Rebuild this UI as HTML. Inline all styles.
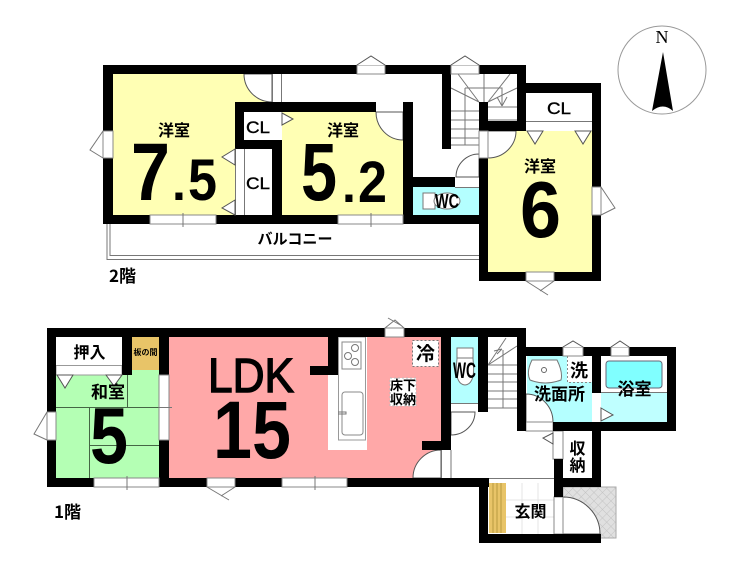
<!DOCTYPE html>
<html><head><meta charset="utf-8"><style>
html,body{margin:0;padding:0;background:#fff}
svg{display:block}
text{font-family:"Liberation Sans","Noto Sans CJK JP",sans-serif;font-weight:bold;fill:#000}
.j{font-family:"Noto Sans CJK JP",sans-serif;font-weight:bold}
.t{fill:none;stroke:#777;stroke-width:1}
.w{fill:#fff;stroke:#888;stroke-width:1}
.d{fill:#fff;stroke:#555;stroke-width:1}
</style></head><body>
<svg width="740" height="570" viewBox="0 0 740 570" xmlns="http://www.w3.org/2000/svg">
<defs>
<pattern id="pp" width="6" height="6" patternUnits="userSpaceOnUse" patternTransform="rotate(45)">
<rect width="6" height="6" fill="#e0e0e0"/><path d="M0 0H6M0 0V6" stroke="#c4c4c4" stroke-width="1"/>
</pattern>
</defs>
<!-- compass -->
<circle cx="662" cy="70" r="44" fill="#fff" stroke="#999" stroke-width="1"/>
<text x="662" y="43" text-anchor="middle" font-size="18" style="font-family:'Liberation Serif',serif;font-weight:normal">N</text>
<path d="M663 52L652 111Q663 102 673 111Z" fill="#000"/>

<!-- balcony -->
<path d="M107 224V259.500H479M110 224V255.500H479" class="t"/>

<!-- 2F rooms -->
<rect x="113" y="74" width="159" height="141" fill="#ffffb4"/>
<rect x="235" y="102" width="49" height="120" fill="#fff"/>
<rect x="282" y="112" width="121" height="103" fill="#ffffb4"/>
<rect x="488" y="131" width="104" height="141" fill="#ffffb4"/>
<rect x="413" y="187" width="66" height="28" fill="#b4ffff"/>
<!-- door swings 2F -->
<path d="M244 74A28 28 0 0 0 272 102V74Z" class="d"/>
<path d="M376 112A27 28 0 0 0 403 140V112Z" class="d"/>
<path d="M488 158A28 27 0 0 0 516 131H488Z" class="d"/>
<path d="M456 177A23 23 0 0 1 479 154V177Z" class="d"/>
<path d="M272.500 74V102M281.500 74V112M244.500 149V215M235.500 149V215" class="t"/>
<path d="M526 121.500H592M455 187.500H479" class="t"/>
<!-- 2F stairs -->
<path d="M451 111H479M451 120H479M451 129H479M451 138H479M451 145H479M488 107H517M488 120H517M465 88V145M465 88H502V106M484 74V102M479 102L458 74M479 102L451 88M488 102L510 74M488 102L517 88M502 106L497 97M502 106L507 97" class="t"/>
<!-- WC 2F -->
<rect x="423" y="193" width="12" height="16" fill="#fff" stroke="#777"/>
<ellipse cx="447" cy="201" rx="13" ry="8" fill="#fff" stroke="#777"/>

<!-- 2F walls -->
<g fill="#000">
<rect x="103" y="65" width="423" height="9"/>
<rect x="103" y="65" width="10" height="159"/>
<rect x="103" y="215" width="376" height="9"/>
<rect x="235" y="102" width="141" height="10"/>
<rect x="235" y="102" width="9" height="47"/>
<rect x="235" y="140" width="47" height="9"/>
<rect x="272" y="140" width="10" height="84"/>
<rect x="403" y="102" width="10" height="122"/>
<rect x="413" y="177" width="42" height="10"/>
<rect x="442" y="65" width="9" height="84"/>
<rect x="517" y="65" width="9" height="66"/>
<rect x="479" y="102" width="9" height="29"/>
<rect x="479" y="121" width="47" height="10"/>
<rect x="517" y="83" width="84" height="10"/>
<rect x="592" y="83" width="9" height="198"/>
<rect x="479" y="272" width="122" height="9"/>
<rect x="479" y="158" width="9" height="123"/>
</g>
<!-- 2F windows -->
<rect x="103" y="131" width="10" height="27" class="w"/>
<path d="M103 131L90 150L103 158" class="t"/>
<rect x="150" y="215" width="66" height="9" class="w"/><path d="M183 213V227" class="t"/>
<rect x="338" y="215" width="65" height="9" class="w"/><path d="M371 213V227" class="t"/>
<rect x="357" y="65" width="28" height="9" class="w"/><path d="M357 65L371 56L385 65" class="d"/>
<rect x="451" y="65" width="28" height="9" class="w"/><path d="M451 65L465 56L479 65" class="d"/>
<rect x="592" y="187" width="9" height="28" class="w"/><path d="M601 187L615 208L601 215" class="t"/>
<rect x="526" y="272" width="28" height="9" class="w"/><path d="M526 281L548 295M554 281L540 291" class="t"/>
<rect x="479" y="131" width="9" height="27" class="w"/>
<path d="M282 113L293 119L282 125Z" class="d"/>
<path d="M235 149L222 157L235 165Z" class="d"/>
<path d="M235 200L222 208L235 215Z" class="d"/>
<path d="M527 131L535 144L543 131Z" class="d"/>
<path d="M575 131L583 144L591 131Z" class="d"/>

<!-- 1F rooms -->
<rect x="56" y="375" width="104" height="103" fill="#b4ffb4"/>
<rect x="132" y="370" width="27" height="8" fill="#b4ffb4"/>
<rect x="132" y="337" width="27" height="33" fill="#e8c468"/>
<rect x="56" y="337" width="66" height="28" fill="#fff"/>
<rect x="56" y="365.500" width="66" height="9.500" fill="#fff" stroke="#999"/>
<rect x="169" y="337" width="272" height="141" fill="#ffa8a8"/>
<rect x="338" y="337" width="29" height="113" fill="#fff"/>
<rect x="328" y="375" width="39" height="75" fill="#fff"/>
<rect x="338.500" y="337" width="27" height="103" fill="#fff" stroke="#999"/>
<rect x="342" y="342" width="19" height="27" fill="#fff" stroke="#888"/>
<circle cx="348" cy="356" r="3.500" fill="none" stroke="#777"/><circle cx="355" cy="348" r="3.500" fill="none" stroke="#777"/><circle cx="355" cy="362" r="3.500" fill="none" stroke="#777"/>
<rect x="342" y="392" width="21" height="43" rx="3" fill="#fff" stroke="#888"/>
<path d="M338 412H346V414H338" class="t"/>
<rect x="451" y="337" width="27" height="66" fill="#b4ffff"/>
<rect x="527" y="356" width="65" height="66" fill="#b4ffff"/>
<rect x="601" y="356" width="66" height="36" fill="#fff"/>
<rect x="601" y="392" width="66" height="30" fill="#bfffff"/>
<rect x="606" y="361" width="56" height="27" rx="3" fill="#80ffff" stroke="#667"/>
<path d="M601 392.500H667" class="t"/>
<rect x="567" y="356" width="25" height="26" fill="#fff"/>
<path d="M567.500 356V382.500H592" fill="none" stroke="#888" stroke-dasharray="2 2"/>
<path d="M532 360H557Q563 372 561 380Q545 386 530 380Q526 372 532 360Z" fill="#fff" stroke="#777"/>
<circle cx="544" cy="370" r="2.500" fill="none" stroke="#666"/>
<rect x="563" y="431" width="29" height="47" fill="#fff"/>
<!-- porch -->
<rect x="563" y="487" width="53" height="51" fill="url(#pp)" stroke="#aaa"/>
<rect x="506" y="483" width="48" height="51" fill="#fff"/>
<path d="M522 483V534M538 483V534M506 500H554M506 517H554" stroke="#e4e4e4" fill="none"/>
<rect x="489" y="483" width="17" height="50" fill="#e8c468"/>
<path d="M493 483V533M497 483V533M501 483V533" stroke="#b89a40" fill="none"/>
<path d="M488 478.500H554" class="t"/>
<path d="M563 497A37 37 0 0 1 600 534H563Z" class="d"/>
<rect x="554" y="497" width="9" height="37" class="w"/>
<!-- door swings 1F -->
<path d="M413 478A28 28 0 0 1 441 450V478Z" class="d"/>
<path d="M441.500 450V478M451 450V478" class="t"/>
<path d="M475 412A24 23 0 0 1 451 435V412Z" class="d"/>
<path d="M451 403.500H478" class="t"/>
<path d="M526 394A27 28 0 0 1 553 422H526Z" class="d"/>
<rect x="526" y="422" width="27" height="9" class="w"/>
<rect x="553" y="431" width="10" height="28" class="w"/>
<path d="M553 433L543 438L553 444Z" class="d"/>
<!-- tatami lines -->
<path d="M56 407.500H172M89.500 407V478M89 445.500H159M127.500 375V407" stroke="#446644" fill="none"/>
<!-- 1F stairs -->
<path d="M488 365H517M488 374H517M488 382H517M488 391H517M488 399H517M488 408H517M503 350V408M488 365L506 338M488 365L517 346M494 351L502 349M497 354L502 349" class="t"/>
<!-- WC 1F toilet -->
<path d="M457 348H473V359Q476 384 465 385Q454 384 457 359Z" fill="#fff" stroke="#777"/>
<path d="M457 358H473" class="t"/>
<!-- 1F walls -->
<g fill="#000">
<rect x="47" y="328" width="479" height="9"/>
<rect x="47" y="328" width="9" height="84"/>
<rect x="47" y="440" width="9" height="47"/>
<rect x="47" y="478" width="47" height="9"/>
<rect x="122" y="337" width="10" height="38"/>
<rect x="159" y="328" width="10" height="47"/>
<rect x="159" y="440" width="10" height="47"/>
<rect x="159" y="478" width="188" height="9"/>
<rect x="347" y="478" width="142" height="9"/>
<rect x="328" y="337" width="10" height="38"/>
<rect x="310" y="366" width="28" height="9"/>
<rect x="441" y="328" width="10" height="122"/>
<rect x="422" y="441" width="29" height="9"/>
<rect x="478" y="328" width="10" height="84"/>
<rect x="517" y="328" width="9" height="103"/>
<rect x="526" y="347" width="150" height="9"/>
<rect x="667" y="347" width="9" height="84"/>
<rect x="553" y="422" width="123" height="9"/>
<rect x="592" y="347" width="9" height="46"/>
<rect x="592" y="422" width="9" height="65"/>
<rect x="554" y="459" width="9" height="38"/>
<rect x="554" y="478" width="47" height="9"/>
<rect x="479" y="478" width="9" height="65"/>
<rect x="479" y="534" width="122" height="9"/>
</g>
<!-- 1F windows -->
<rect x="47" y="412" width="9" height="28" class="w"/><path d="M47 412L34 434L47 440" class="t"/>
<rect x="94" y="478" width="65" height="9" class="w"/><path d="M127 476V490" class="t"/>
<rect x="207" y="478" width="28" height="9" class="w"/><path d="M207 487L229 500M235 487L221 496" class="t"/>
<rect x="282" y="478" width="65" height="9" class="w"/><path d="M315 476V490" class="t"/>
<rect x="385" y="328" width="19" height="9" class="w"/><path d="M385 328L395 320L404 328M388 318L402 326" class="t"/>
<rect x="159" y="375" width="10" height="65" class="w"/><path d="M159 407.500H172" class="t"/>
<rect x="563" y="347" width="20" height="9" class="w"/><path d="M563 347L573 341L583 347" class="d"/>
<rect x="611" y="347" width="18" height="9" class="w"/><path d="M611 347L620 341L629 347" class="d"/>
<path d="M601 408L613 415L601 421Z" class="d"/>
<path d="M57 375L65 388L73 375Z" class="d"/>
<path d="M106 375L114 386L122 375Z" class="d"/>
<!-- labels boxes -->
<rect x="412.500" y="340.500" width="26" height="26" fill="#fff" stroke="#777" stroke-dasharray="2 2"/>
<rect x="390" y="378" width="26" height="28" fill="#fff" stroke="#bbb" stroke-dasharray="2 2"/>

<!-- 2F text -->
<text class="j" x="174" y="136" font-size="16" text-anchor="middle">洋室</text>
<text x="131" y="200" font-size="82" textLength="39" lengthAdjust="spacingAndGlyphs">7</text>
<text x="172" y="200" font-size="50">.</text>
<text x="188" y="200" font-size="58" textLength="29" lengthAdjust="spacingAndGlyphs">5</text>
<text class="j" x="343" y="136" font-size="16" text-anchor="middle">洋室</text>
<text x="301" y="200" font-size="82" textLength="36" lengthAdjust="spacingAndGlyphs">5</text>
<text x="342" y="202" font-size="50">.</text>
<text x="358" y="202" font-size="58" textLength="29" lengthAdjust="spacingAndGlyphs">2</text>
<text class="j" x="540" y="172" font-size="16" text-anchor="middle">洋室</text>
<text x="520" y="237" font-size="80" textLength="41" lengthAdjust="spacingAndGlyphs">6</text>
<text x="246" y="133" font-size="17" style="font-weight:normal" stroke="#000" stroke-width=".4" textLength="24" lengthAdjust="spacingAndGlyphs">CL</text>
<text x="246" y="189" font-size="17" style="font-weight:normal" stroke="#000" stroke-width=".4" textLength="24" lengthAdjust="spacingAndGlyphs">CL</text>
<text x="547" y="114" font-size="17" style="font-weight:normal" stroke="#000" stroke-width=".4" textLength="24" lengthAdjust="spacingAndGlyphs">CL</text>
<text x="435" y="208" font-size="20" textLength="24" lengthAdjust="spacingAndGlyphs">WC</text>
<text class="j" x="295" y="244" font-size="15" text-anchor="middle" textLength="75" lengthAdjust="spacingAndGlyphs">バルコニー</text>
<text class="j" x="109" y="282" font-size="17">2階</text>

<!-- 1F text -->
<text class="j" x="54" y="518" font-size="17">1階</text>
<text class="j" x="89.500" y="358" font-size="16" text-anchor="middle">押入</text>
<text class="j" x="145.500" y="355" font-size="8" text-anchor="middle">板の間</text>
<text class="j" x="108" y="398" font-size="17" text-anchor="middle">和室</text>
<text x="90" y="463" font-size="80" textLength="38" lengthAdjust="spacingAndGlyphs">5</text>
<text x="208" y="392" font-size="48" textLength="86" lengthAdjust="spacingAndGlyphs" style="font-weight:normal" stroke="#000" stroke-width="1.4">LDK</text>
<text x="213" y="458" font-size="82" textLength="78" lengthAdjust="spacingAndGlyphs">15</text>
<text class="j" x="425.500" y="360" font-size="19" text-anchor="middle">冷</text>
<text class="j" x="403" y="390" font-size="13" text-anchor="middle">床下</text>
<text class="j" x="403" y="404" font-size="13" text-anchor="middle">収納</text>
<text x="453" y="378" font-size="22" textLength="23" lengthAdjust="spacingAndGlyphs">WC</text>
<text class="j" x="579" y="377" font-size="18" text-anchor="middle">洗</text>
<text class="j" x="559.500" y="400" font-size="17" text-anchor="middle">洗面所</text>
<text class="j" x="634.500" y="395" font-size="17" text-anchor="middle">浴室</text>
<text class="j" x="577.500" y="454" font-size="16" text-anchor="middle">収</text>
<text class="j" x="577.500" y="471" font-size="16" text-anchor="middle">納</text>
<text class="j" x="530.500" y="517" font-size="16" text-anchor="middle">玄関</text>
</svg>
</body></html>
